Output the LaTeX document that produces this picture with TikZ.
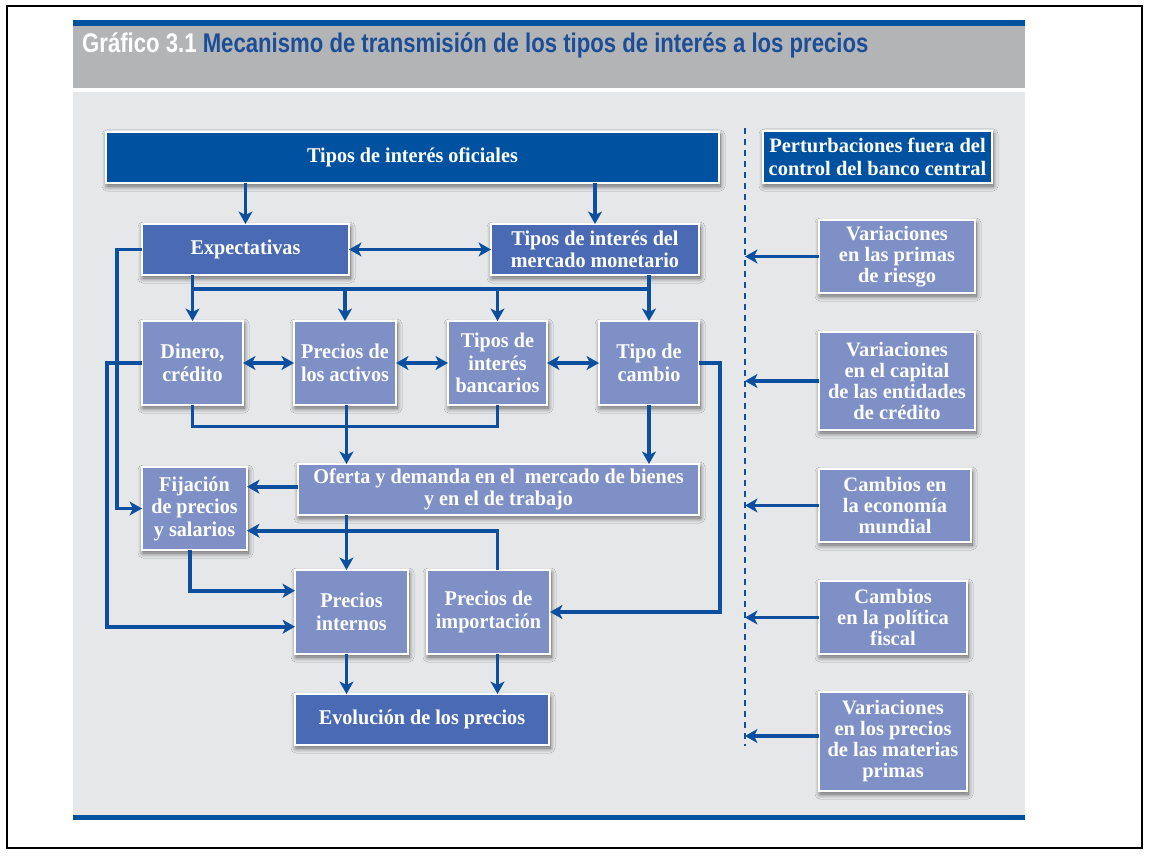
\documentclass[tikz,border=0pt]{standalone}
\usepackage{fontspec}
\setmainfont{Liberation Serif}
\newfontfamily\boxfont[FakeStretch=0.96]{Liberation Serif}
\newfontfamily\titlefont[FakeStretch=0.82]{Liberation Sans}
\usetikzlibrary{arrows.meta,shadows.blur,calc}
\definecolor{dkblue}{HTML}{0052A0}
\definecolor{mdblue}{HTML}{4A6BB4}
\definecolor{ltblue}{HTML}{7E90C5}
\definecolor{arrblue}{HTML}{0B4F9E}
\definecolor{panel}{HTML}{E6E7E9}
\definecolor{band}{HTML}{B3B4B6}
\definecolor{ttlblue}{HTML}{1C4E98}
\tikzset{
  bx/.style={draw=white, line width=1.5pt, inner sep=0pt, outer sep=0pt, align=center, text=white,
    font=\boxfont\fontsize{21}{22.5}\selectfont\bfseries,
    blur shadow={shadow xshift=1pt, shadow yshift=-3pt, shadow blur radius=5pt, shadow blur steps=10, shadow opacity=60}},
  dkbox/.style={bx, fill=dkblue},
  mdbox/.style={bx, fill=mdblue},
  ltbox/.style={bx, fill=ltblue},
  rbox/.style={ltbox, font=\fontsize{20.5}{21}\selectfont\bfseries},
  conn/.style={draw=arrblue, line width=3.8pt},
  arr/.style={conn, -{Stealth[length=12.5pt,width=14pt,inset=3.5pt]}},
  darr/.style={conn, {Stealth[length=12.5pt,width=14pt,inset=3.5pt]}-{Stealth[length=12.5pt,width=14pt,inset=3.5pt]}},
  dashline/.style={draw=arrblue, line width=2.8pt, dash pattern=on 6pt off 5pt},
}
\begin{document}
\begin{tikzpicture}[x=1pt,y=-1pt]
\useasboundingbox (0,0) rectangle (1150,858);
\fill[white] (0,0) rectangle (1150,858);
\draw[black, line width=2pt] (7,6) rectangle (1142,848);
\fill[band] (73,20) rectangle (1025,88);
\fill[dkblue] (73,20) rectangle (1025,26.5);
\fill[panel] (73,92) rectangle (1025,815);
\fill[dkblue] (73,815) rectangle (1025,820);
\node[anchor=west, inner sep=0pt, font=\titlefont\bfseries\fontsize{27}{29}\selectfont] (title) at (82,45)
  {\textcolor{white}{Gráfico 3.1} \textcolor{ttlblue}{Mecanismo de transmisión de los tipos de interés a los precios}};

% left part boxes
\node[dkbox, minimum width=613pt, minimum height=51pt] (tio) at (412.5,157.5) {Tipos de interés oficiales};
\node[mdbox, minimum width=207pt, minimum height=51pt] (exp) at (245.5,249.5) {Expectativas};
\node[mdbox, minimum width=208pt, minimum height=51pt] (mer) at (595,249.5) {Tipos de interés del\\mercado monetario};
\node[ltbox, minimum width=101pt, minimum height=84pt] (din) at (192.5,363) {Dinero,\\crédito};
\node[ltbox, minimum width=102pt, minimum height=84pt] (act) at (345,363) {Precios de\\los activos};
\node[ltbox, minimum width=99pt, minimum height=84pt] (ban) at (497.5,363) {Tipos de\\interés\\bancarios};
\node[ltbox, minimum width=100pt, minimum height=84pt] (cam) at (649,363) {Tipo de\\cambio};
\node[ltbox, minimum width=401pt, minimum height=51pt] (ofe) at (498.5,489.5) {Oferta y demanda en el \ mercado de bienes\\y en el de trabajo};
\node[ltbox, minimum width=105pt, minimum height=83pt] (fij) at (194.5,508.5) {Fijación\\de precios\\y salarios};
\node[ltbox, minimum width=113pt, minimum height=84pt] (int) at (351.5,612) {Precios\\internos};
\node[ltbox, minimum width=123pt, minimum height=84pt] (imp) at (488.5,612) {Precios de\\importación};
\node[mdbox, minimum width=254pt, minimum height=51pt] (evo) at (422,719.5) {Evolución de los precios};

% right column
\node[dkbox, minimum width=229pt, minimum height=52pt, font=\fontsize{20.5}{22.5}\selectfont\bfseries] (per) at (877.5,157) {Perturbaciones fuera del\\control del banco central};
\node[rbox, minimum width=156pt, minimum height=73pt] (r1) at (897,256.5) {Variaciones\\en las primas\\de riesgo};
\node[rbox, minimum width=156pt, minimum height=98pt] (r2) at (897,381) {Variaciones\\en el capital\\de las entidades\\de crédito};
\node[rbox, minimum width=152pt, minimum height=73pt] (r3) at (895,505.5) {Cambios en\\la economía\\mundial};
\node[rbox, minimum width=148pt, minimum height=73pt] (r4) at (893,617.5) {Cambios\\en la política\\fiscal};
\node[rbox, minimum width=148pt, minimum height=99pt] (r5) at (893,741.5) {Variaciones\\en los precios\\de las materias\\primas};

% helper coordinates
\coordinate (bus) at (0,289);
\coordinate (bus2) at (0,426.5);
\coordinate (vx) at (346.5,0);
\coordinate (rx) at (720,0);
\coordinate (lx1) at (117,0);
\coordinate (lx2) at (107,0);
\coordinate (fx) at (190,0);
\coordinate (y590) at (0,590.7);
\coordinate (y626) at (0,626.7);
\coordinate (y530) at (0,530.7);
\coordinate (dtop) at (745,128);
\coordinate (dbot) at (745,746);

% connectors
\draw[arr] (exp.north |- tio.south) -- (exp.north);
\draw[arr] (mer.north |- tio.south) -- (mer.north);
\draw[darr] (exp.east) -- (mer.west);
\draw[conn] (din.north |- exp.south) -- (din.north |- bus) -- (cam.north |- bus);
\draw[conn] (cam.north |- mer.south) -- (cam.north |- bus);
\draw[arr] (din.north |- bus) -- (din.north);
\draw[arr] (act.north |- bus) -- (act.north);
\draw[arr] (ban.north |- bus) -- (ban.north);
\draw[arr] (cam.north |- bus) -- (cam.north);
\draw[darr] (din.east) -- (act.west);
\draw[darr] (act.east) -- (ban.west);
\draw[darr] (ban.east) -- (cam.west);
\draw[conn] (din.south) -- (din.south |- bus2) -- (ban.south |- bus2) -- (ban.south);
\draw[arr] (vx |- act.south) -- (vx |- ofe.north);
\draw[arr] (cam.south) -- (cam.south |- ofe.north);
\draw[arr] (cam.east) -- (cam.east -| rx) -- (rx |- imp.east) -- (imp.east);
\draw[arr] ([yshift=2.8pt]ofe.west) -- ([yshift=2.8pt]ofe.west -| fij.east);
\draw[arr] (exp.west) -- (exp.west -| lx1) -- (lx1 |- fij.west) -- (fij.west);
\draw[arr] (din.west) -- (din.west -| lx2) -- (lx2 |- y626) -- (int.west |- y626);
\draw[arr] (fx |- fij.south) -- (fx |- y590) -- (int.west |- y590);
\draw[arr] (vx |- ofe.south) -- (vx |- int.north);
\draw[arr] (ban.south |- imp.north) -- (ban.south |- y530) -- (fij.east |- y530);
\draw[arr] (vx |- int.south) -- (vx |- evo.north);
\draw[arr] (ban.south |- imp.south) -- (ban.south |- evo.north);

\draw[dashline] (dtop) -- (dbot);
\draw[arr] (r1.west) -- (r1.west -| dtop);
\draw[arr] (r2.west) -- (r2.west -| dtop);
\draw[arr] (r3.west) -- (r3.west -| dtop);
\draw[arr] (r4.west) -- (r4.west -| dtop);
\draw[arr] ([yshift=5.5pt]r5.west) -- ([yshift=5.5pt]r5.west -| dtop);
\end{tikzpicture}
\end{document}
